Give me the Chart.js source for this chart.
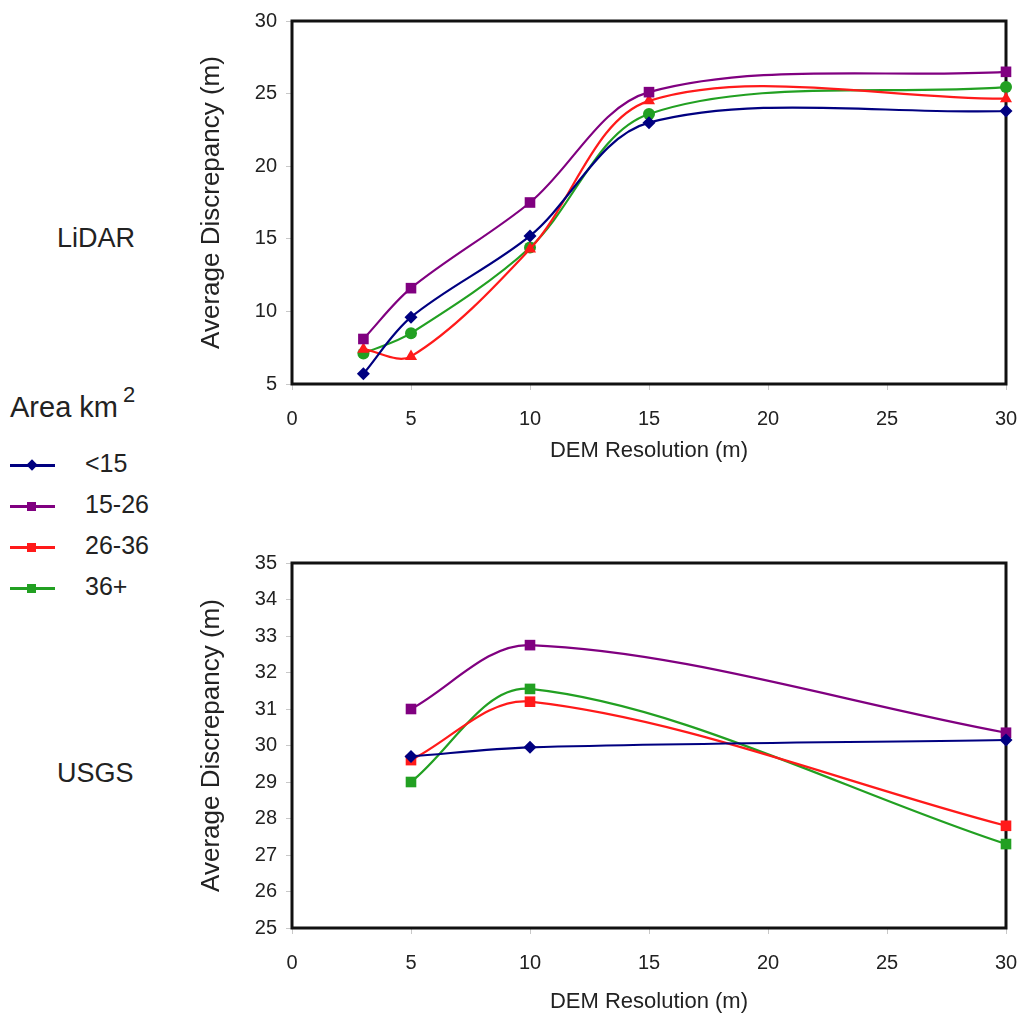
<!DOCTYPE html>
<html>
<head>
<meta charset="utf-8">
<script src="https://cdn.jsdelivr.net/npm/chart.js@4.4.1/dist/chart.umd.min.js"></script>
<style>
  body { margin: 0; background: #fff; width: 1022px; height: 1017px; position: relative; overflow: hidden;
         font-family: 'Liberation Sans', Arial, sans-serif; color: #222; }
  #topWrap { position: absolute; left: 190px; top: 0; }
  #botWrap { position: absolute; left: 190px; top: 480px; }
  .side { position: absolute; font-size: 27px; }
  #legend { position: absolute; left: 10px; top: 386px; }
  #legend .head { font-size: 29px; margin-bottom: 22px; white-space: nowrap; }
  #legend .head sup { font-size: 22px; position: relative; top: -4px; margin-left: 5px; }
  .row { position: relative; height: 41px; width: 180px; font-size: 25px; }
  .row .ln { position: absolute; left: 0; top: 18px; width: 45px; height: 3px; }
  .row .mk { position: absolute; left: 17px; top: 15px; width: 9px; height: 9px; }
  .row .mk.dia { transform: rotate(45deg); width: 8px; height: 8px; left: 18px; top: 15px; }
  .row .tx { position: absolute; left: 75px; top: 3px; white-space: nowrap; }
</style>
</head>
<body>
<div class="side" style="left:57px; top:223px;">LiDAR</div>
<div class="side" style="left:57px; top:758px;">USGS</div>

<div id="legend">
  <div class="head">Area km<sup>2</sup></div>
  <div class="row"><div class="ln" style="background:#000080"></div><div class="mk dia" style="background:#000080"></div><div class="tx">&lt;15</div></div>
  <div class="row"><div class="ln" style="background:#800080"></div><div class="mk" style="background:#800080"></div><div class="tx">15-26</div></div>
  <div class="row"><div class="ln" style="background:#ff1a1a"></div><div class="mk" style="background:#ff1a1a"></div><div class="tx">26-36</div></div>
  <div class="row"><div class="ln" style="background:#22a022"></div><div class="mk" style="background:#22a022"></div><div class="tx">36+</div></div>
</div>

<div id="topWrap"><canvas id="lidarChart" width="832" height="470"></canvas></div>
<div id="botWrap"><canvas id="usgsChart" width="832" height="537"></canvas></div>

<script>
// DEM resolution (m)
const xTicks = [0, 5, 10, 15, 20, 25, 30];
const xLidar = [3, 5, 10, 15, 30];
const xUsgs = [5, 10, 30];

// LiDAR average discrepancy (m)
const lidarUnder15 = [5.7, 9.6, 15.2, 23.0, 23.8];
const lidar15to26 = [8.1, 11.6, 17.5, 25.1, 26.5];
const lidar26to36 = [7.4, 6.9, 14.3, 24.5, 24.65];
const lidar36plus = [7.1, 8.5, 14.4, 23.6, 25.45];
const lidarYTicks = [5, 10, 15, 20, 25, 30];

// USGS average discrepancy (m)
const usgsUnder15 = [29.7, 29.95, 30.15];
const usgs15to26 = [31.0, 32.75, 30.35];
const usgs26to36 = [29.6, 31.2, 27.8];
const usgs36plus = [29.0, 31.55, 27.3];
const usgsYTicks = [25, 26, 27, 28, 29, 30, 31, 32, 33, 34, 35];

const seriesNames = ['<15', '15-26', '26-36', '36+'];
const colors = ['#000080', '#800080', '#ff1a1a', '#22a022'];

const FONT = "'Liberation Sans', Arial, sans-serif";

function toPoints(xs, ys) {
    return xs.map((x, i) => ({ x: x, y: ys[i] }));
}

function makeSet(idx, xs, ys, style, radius) {
    return {
        label: seriesNames[idx],
        data: toPoints(xs, ys),
        borderColor: colors[idx],
        backgroundColor: colors[idx],
        borderWidth: 2.2,
        pointStyle: style,
        pointRadius: radius,
        pointBorderWidth: 0,
        tension: 0.33,
        clip: false
    };
}

// thick black frame round the plot, drawn under the markers
const frame = {
    id: 'frame',
    beforeDatasetsDraw(chart) {
        const a = chart.chartArea;
        const ctx = chart.ctx;
        ctx.save();
        ctx.strokeStyle = '#111';
        ctx.lineWidth = 3;
        ctx.strokeRect(a.left, a.top, a.right - a.left, a.bottom - a.top);
        ctx.restore();
    }
};

function makeOptions(yTicks, padTop, xHeight, titlePadBottom) {
    return {
        responsive: false,
        animation: false,
        layout: { autoPadding: false, padding: { left: 0, right: 16, top: padTop, bottom: 0 } },
        plugins: { legend: { display: false }, tooltip: { enabled: false } },
        scales: {
            x: {
                type: 'linear',
                min: xTicks[0],
                max: xTicks[xTicks.length - 1],
                afterBuildTicks: (axis) => { axis.ticks = xTicks.map(v => ({ value: v })); },
                afterFit: (axis) => {
                    axis.height = xHeight;
                    axis.paddingLeft = 0;
                    axis.paddingRight = 0;
                },
                border: { display: false },
                grid: { drawOnChartArea: false, drawTicks: true, tickLength: 6, color: '#c8c8c8' },
                ticks: { padding: 17, color: '#222', font: { family: FONT, size: 20 } },
                title: { display: true, text: 'DEM Resolution (m)', color: '#222',
                         font: { family: FONT, size: 22 }, padding: { top: 0, bottom: titlePadBottom } }
            },
            y: {
                min: yTicks[0],
                max: yTicks[yTicks.length - 1],
                afterBuildTicks: (axis) => { axis.ticks = yTicks.map(v => ({ value: v })); },
                afterFit: (axis) => { axis.width = 102; },
                border: { display: false },
                grid: { drawOnChartArea: false, drawTicks: true, tickLength: 6, color: '#c8c8c8' },
                ticks: { padding: 9, color: '#222', font: { family: FONT, size: 20 } },
                title: { display: true, text: 'Average Discrepancy (m)', color: '#222',
                         font: { family: FONT, size: 26 }, padding: { top: 6, bottom: 0 } }
            }
        }
    };
}

new Chart(document.getElementById('lidarChart'), {
    type: 'line',
    data: {
        datasets: [
            makeSet(0, xLidar, lidarUnder15, 'rectRot', 6.5),
            makeSet(1, xLidar, lidar15to26, 'rect', 7.5),
            makeSet(2, xLidar, lidar26to36, 'triangle', 7),
            makeSet(3, xLidar, lidar36plus, 'circle', 6)
        ]
    },
    options: makeOptions(lidarYTicks, 18, 86, 6),
    plugins: [frame]
});

new Chart(document.getElementById('usgsChart'), {
    type: 'line',
    data: {
        datasets: [
            makeSet(0, xUsgs, usgsUnder15, 'rectRot', 6.5),
            makeSet(1, xUsgs, usgs15to26, 'rect', 7.5),
            makeSet(2, xUsgs, usgs26to36, 'rect', 7.5),
            makeSet(3, xUsgs, usgs36plus, 'rect', 7.5)
        ]
    },
    options: makeOptions(usgsYTicks, 83, 89, 2),
    plugins: [frame]
});
</script>
</body>
</html>
